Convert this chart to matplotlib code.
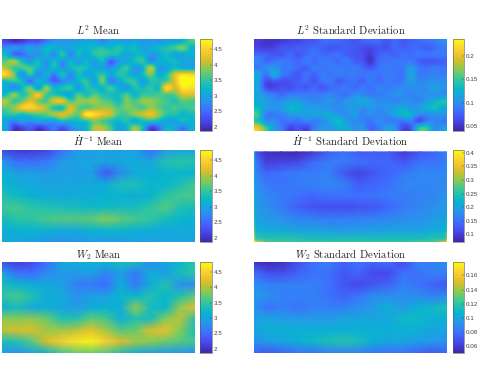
import numpy as np
import matplotlib
matplotlib.use("Agg")
import matplotlib.pyplot as plt
from matplotlib.colors import LinearSegmentedColormap

plt.rcParams["mathtext.fontset"] = "cm"

# parula style colormap
parula = LinearSegmentedColormap.from_list("parula", [
    (0.2422, 0.1504, 0.6603), (0.2803, 0.2782, 0.9221), (0.2440, 0.4358, 0.9988),
    (0.1540, 0.5902, 0.9218), (0.0297, 0.7082, 0.8163), (0.1938, 0.7758, 0.6251),
    (0.5044, 0.7993, 0.3480), (0.8634, 0.7406, 0.1596), (0.9892, 0.8136, 0.1885),
    (0.9769, 0.9839, 0.0805)])

l2_mean = [
    [2.2,2.0,2.1,2.3,2.3,2.6,2.8,2.9,2.9,2.9,3.0,3.0,2.7,3.0,3.0,2.9,3.0,2.9,2.9,2.8,3.0,3.0,3.2,3.6],
    [2.8,2.9,2.8,3.0,2.9,3.2,3.2,3.0,3.0,3.2,3.2,3.3,3.4,3.2,3.4,3.2,3.3,3.0,3.1,3.3,3.4,3.6,3.8,3.2],
    [3.2,2.5,2.5,2.8,2.8,3.2,2.7,3.5,2.7,3.3,3.0,3.4,3.5,3.4,3.3,3.0,3.2,3.2,2.9,3.0,3.3,3.0,3.0,3.2],
    [3.7,4.0,3.3,2.9,3.3,2.8,3.3,2.8,3.2,2.9,3.2,2.9,3.3,2.4,2.9,3.0,3.3,3.5,2.8,3.1,3.2,3.3,3.1,3.0],
    [4.0,3.5,3.6,3.6,3.2,2.9,3.3,2.8,3.2,3.4,3.3,3.0,3.0,2.8,3.2,3.5,2.9,3.1,4.1,3.0,3.0,3.3,3.1,3.1],
    [4.5,3.8,2.8,3.5,2.7,3.2,2.6,3.4,2.7,3.3,3.0,3.2,3.5,3.0,3.4,3.3,3.0,3.3,3.8,3.1,3.4,4.2,4.6,4.5],
    [3.3,3.5,3.3,2.5,3.2,2.9,2.4,2.7,2.9,3.2,3.5,2.9,3.8,2.7,3.0,3.4,3.5,2.9,3.4,3.4,3.6,4.2,4.9,4.8],
    [3.1,2.7,3.2,3.8,2.9,3.9,3.2,3.4,3.5,2.9,3.4,3.3,3.2,3.6,3.1,2.9,3.4,3.3,3.5,3.3,4.6,4.1,4.7,4.6],
    [3.3,3.9,3.4,3.8,4.4,3.6,3.4,3.2,3.0,3.6,3.3,3.6,3.4,3.3,3.3,3.6,3.2,3.5,3.5,3.6,3.6,3.7,4.2,4.2],
    [4.0,3.5,3.7,4.2,3.8,3.6,4.2,4.3,3.6,3.9,3.9,4.0,3.7,3.6,3.3,3.8,3.6,3.9,3.9,3.7,3.6,3.4,3.7,3.6],
    [3.7,3.9,4.4,4.5,4.3,4.0,3.4,3.3,4.2,3.7,3.6,3.8,3.9,3.9,3.6,3.8,3.7,3.6,3.9,3.7,3.5,3.6,3.5,3.6],
    [3.4,3.5,3.3,3.5,3.6,3.7,4.0,4.2,4.0,3.7,4.7,4.6,4.3,4.1,3.6,3.6,3.9,4.1,4.3,3.9,3.5,3.4,3.2,3.3],
    [3.0,2.7,3.0,2.8,3.0,3.0,2.9,3.3,3.2,3.3,3.4,3.8,3.6,3.4,3.2,3.4,3.1,3.3,3.4,3.2,3.0,3.0,3.3,3.2],
    [3.0,2.1,2.2,2.4,2.1,2.3,2.6,2.3,2.7,3.0,3.2,4.0,4.0,3.6,3.0,3.2,3.9,3.3,2.2,2.5,3.2,3.0,2.6,3.1],
]

l2_std = [
    [.055,.05,.05,.055,.06,.06,.07,.07,.08,.08,.08,.075,.07,.075,.08,.08,.07,.08,.07,.075,.08,.085,.09,.10],
    [.06,.055,.06,.07,.07,.075,.075,.08,.075,.07,.07,.075,.07,.065,.06,.07,.065,.08,.075,.08,.08,.075,.08,.09],
    [.08,.075,.07,.07,.08,.07,.08,.085,.08,.08,.085,.075,.07,.065,.055,.075,.08,.075,.085,.08,.09,.085,.09,.09],
    [.095,.08,.085,.09,.085,.08,.09,.08,.09,.085,.08,.09,.075,.07,.05,.08,.085,.09,.085,.09,.075,.07,.07,.075],
    [.09,.10,.105,.09,.09,.08,.075,.09,.085,.09,.09,.085,.09,.08,.07,.085,.09,.085,.09,.11,.09,.085,.09,.085],
    [.12,.085,.12,.09,.08,.07,.085,.075,.09,.085,.09,.09,.09,.085,.09,.085,.09,.09,.085,.115,.09,.09,.095,.09],
    [.11,.065,.07,.065,.07,.075,.08,.07,.085,.09,.075,.08,.085,.075,.09,.08,.09,.085,.09,.11,.095,.10,.10,.10],
    [.115,.065,.06,.07,.065,.075,.07,.08,.07,.08,.085,.09,.08,.09,.085,.095,.09,.095,.10,.10,.10,.10,.115,.105],
    [.115,.10,.09,.08,.09,.09,.09,.09,.09,.095,.09,.085,.10,.095,.09,.09,.095,.10,.10,.095,.10,.10,.10,.10],
    [.12,.11,.10,.10,.11,.11,.10,.095,.10,.105,.095,.105,.11,.12,.11,.10,.10,.095,.10,.10,.095,.11,.125,.14],
    [.13,.11,.105,.11,.13,.125,.11,.11,.105,.10,.10,.105,.11,.10,.105,.10,.105,.11,.12,.105,.11,.125,.135,.12],
    [.15,.095,.09,.095,.105,.11,.11,.115,.115,.12,.105,.10,.11,.095,.10,.095,.10,.115,.13,.125,.10,.10,.105,.105],
    [.14,.10,.10,.085,.09,.085,.095,.09,.10,.115,.135,.11,.10,.095,.085,.10,.09,.09,.085,.095,.065,.09,.095,.09],
    [.20,.15,.11,.09,.06,.07,.06,.09,.105,.105,.12,.12,.10,.105,.08,.09,.11,.105,.065,.07,.14,.145,.10,.11],
]

h1_mean = [
    [2.2,2.05,2.05,2.15,2.5,2.85,2.95,2.95,2.95,2.95,2.5,2.9,3.05,3.0],
    [2.85,2.5,2.5,2.6,2.9,3.0,3.0,3.0,3.05,3.1,3.0,3.4,3.45,3.4],
    [3.15,2.95,2.95,2.9,2.95,2.95,2.95,2.35,2.75,3.1,3.1,3.2,3.2,3.15],
    [3.2,3.1,3.05,3.0,3.0,3.0,3.05,3.1,3.35,3.35,3.2,3.2,3.35,3.6],
    [3.4,3.25,3.15,3.1,3.05,3.1,3.1,3.15,3.15,3.1,3.15,3.45,3.6,3.6],
    [3.55,3.6,3.45,3.4,3.35,3.3,3.25,3.25,3.3,3.3,3.5,3.65,3.4,3.3],
    [3.3,3.45,3.5,3.6,3.65,3.65,3.7,3.85,3.7,3.6,3.5,3.3,3.2,3.15],
    [3.1,3.15,3.15,3.15,3.05,3.05,3.15,3.2,3.2,3.15,3.1,3.05,3.05,3.05],
    [3.05,3.0,2.95,2.85,2.8,2.85,2.9,2.9,2.9,2.95,2.95,3.0,3.0,3.0],
]

# first/last two columns and last row are the thin bright rim of this panel
h1_std = [
    [.20,.12,.085,.08,.075,.095,.13,.15,.13,.13,.13,.095,.125,.14,.16,.17],
    [.20,.16,.10,.105,.11,.14,.16,.16,.15,.14,.14,.125,.15,.15,.16,.17],
    [.20,.17,.14,.15,.16,.16,.165,.13,.105,.125,.14,.16,.17,.17,.17,.18],
    [.21,.18,.16,.15,.16,.165,.17,.165,.13,.14,.15,.17,.17,.17,.17,.18],
    [.22,.19,.17,.16,.15,.14,.15,.15,.15,.15,.16,.16,.165,.17,.18,.19],
    [.23,.19,.18,.16,.135,.12,.115,.115,.12,.125,.14,.16,.17,.18,.19,.19],
    [.24,.20,.19,.18,.17,.165,.16,.16,.165,.165,.17,.175,.18,.19,.20,.21],
    [.28,.22,.21,.21,.20,.20,.195,.19,.19,.195,.20,.20,.20,.21,.22,.26],
    [.33,.26,.25,.25,.25,.24,.24,.24,.24,.24,.24,.24,.24,.25,.25,.32],
    [.41,.36,.28,.27,.26,.26,.26,.26,.26,.26,.26,.26,.27,.28,.34,.38],
]

w2_mean = [
    [2.25,2.1,2.2,2.5,3.0,3.1,3.2,3.2,3.3,3.3,2.75,3.0,3.2,3.45],
    [3.0,2.55,2.55,2.75,2.9,2.85,2.95,2.7,2.95,2.6,3.1,2.95,3.3,3.5],
    [3.3,3.2,3.1,3.05,2.95,2.65,2.6,2.5,3.1,2.6,3.1,3.4,2.8,2.75],
    [3.5,3.6,3.4,3.1,3.1,2.8,2.95,2.95,3.2,3.2,3.4,3.2,3.4,3.7],
    [3.1,3.3,3.05,3.1,3.0,2.9,3.1,3.15,3.1,3.9,3.3,3.2,3.9,4.2],
    [3.9,3.85,3.9,3.75,3.4,3.4,3.7,3.6,3.1,3.4,3.3,3.85,4.05,3.4],
    [4.05,4.15,4.15,3.95,3.95,4.05,4.25,3.95,3.65,3.75,4.15,4.25,3.85,3.3],
    [3.3,3.4,3.65,4.15,4.45,4.65,4.75,4.45,4.15,3.95,3.85,3.75,3.65,3.55],
    [2.9,2.8,3.0,3.2,3.55,3.75,3.75,3.65,3.35,3.1,3.0,2.9,2.85,2.8],
]

w2_std = [
    [.056,.052,.056,.068,.08,.085,.075,.08,.075,.08,.065,.085,.085,.09],
    [.078,.068,.068,.075,.08,.08,.07,.075,.065,.065,.08,.08,.085,.085],
    [.09,.085,.085,.085,.085,.08,.07,.065,.07,.075,.085,.08,.075,.07],
    [.095,.09,.085,.085,.085,.08,.075,.08,.09,.09,.09,.09,.085,.09],
    [.09,.08,.085,.08,.085,.085,.085,.09,.095,.105,.095,.105,.11,.115],
    [.10,.10,.095,.095,.095,.095,.10,.10,.10,.10,.11,.11,.105,.105],
    [.10,.105,.105,.105,.105,.105,.105,.105,.105,.105,.105,.105,.10,.10],
    [.09,.095,.10,.105,.11,.115,.118,.115,.105,.10,.10,.095,.095,.09],
    [.075,.07,.075,.08,.08,.085,.085,.085,.08,.08,.08,.075,.07,.075],
]

titles = [r"$L^2$ Mean", r"$L^2$ Standard Deviation",
          r"$\dot{H}^{-1}$ Mean", r"$\dot{H}^{-1}$ Standard Deviation",
          r"$W_2$ Mean", r"$W_2$ Standard Deviation"]
grids = [l2_mean, l2_std, h1_mean, h1_std, w2_mean, w2_std]
limits = [(1.86, 4.83), (0.039, 0.236), (1.86, 4.83), (0.072, 0.41), (1.86, 4.83), (0.05, 0.179)]
mean_ticks = [2, 2.5, 3, 3.5, 4, 4.5]
ticks = [mean_ticks, [0.05, 0.1, 0.15, 0.2], mean_ticks,
         [0.1, 0.15, 0.2, 0.25, 0.3, 0.35, 0.4], mean_ticks,
         [0.06, 0.08, 0.1, 0.12, 0.14, 0.16]]

W, H = 479, 392
fig = plt.figure(figsize=(W / 100, H / 100), dpi=100)

def px_axes(x0, x1, y0, y1):
    return fig.add_axes([x0 / W, 1 - y1 / H, (x1 - x0) / W, (y1 - y0) / H])

columns = [(2, 195, 200, 212), (254, 447, 453, 464)]
rows = [(39, 131), (150, 242), (262, 353)]

for i, vals in enumerate(grids):
    ax_l, ax_r, cb_l, cb_r = columns[i % 2]
    top, bottom = rows[i // 2]
    vals = np.array(vals)
    ax = px_axes(ax_l, ax_r, top, bottom)
    if i < 2:
        # L2 panels were read per cell, so keep them cell centred and a bit sharper
        m = ax.imshow(vals, cmap=parula, vmin=limits[i][0], vmax=limits[i][1], aspect="auto",
                      interpolation="spline16", extent=(0, 1, 1, 0))
    else:
        if i == 3:
            xs = np.r_[0, .012, np.linspace(.06, .94, 12), .988, 1]
            ys = np.array([.02, .13, .25, .37, .5, .62, .75, .87, .97, 1])
        else:
            xs = np.linspace(0, 1, vals.shape[1])
            ys = np.linspace(0, 1, vals.shape[0])
        m = ax.pcolormesh(xs, ys, vals, shading="gouraud", cmap=parula,
                          vmin=limits[i][0], vmax=limits[i][1], rasterized=True)
    ax.set_xlim(0, 1)
    ax.set_ylim(1, 0)
    ax.set_xticks([])
    ax.set_yticks([])
    for s in ax.spines.values():
        s.set_visible(False)
    ax.set_title(titles[i], fontsize=7.7, family="cmr10", pad=3, color="#222222")

    cax = px_axes(cb_l, cb_r, top, bottom)
    cb = fig.colorbar(m, cax=cax)
    cb.set_ticks(ticks[i])
    cb.set_ticklabels([f"{t:g}" for t in ticks[i]])
    cb.ax.tick_params(direction="in", length=1.5, width=0.3, labelsize=4.5, pad=1.5,
                      colors="#404040")
    for lab in cb.ax.get_yticklabels():
        lab.set_family("Liberation Sans")
    cb.outline.set_linewidth(0.4)
    cb.outline.set_edgecolor("#555555")

fig.savefig("out.png", dpi=100)
